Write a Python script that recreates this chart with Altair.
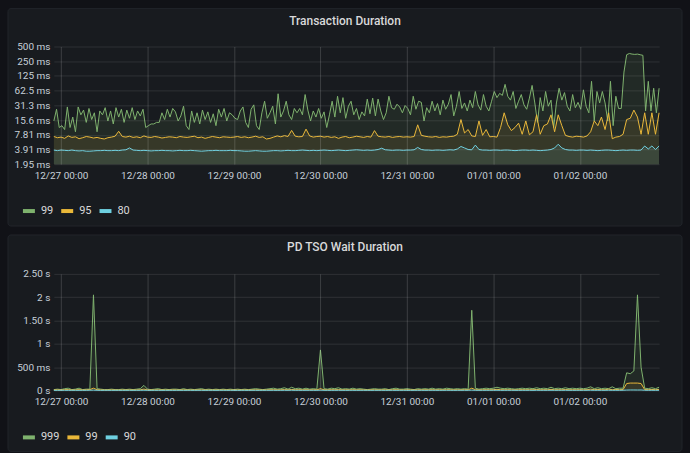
import altair as alt
import pandas as pd

# ---------------------------------------------------------------- data ----
START = alt.DateTime(year=2020, month=12, date=26, hours=22)
END = alt.DateTime(year=2021, month=1, date=2, hours=22)
T0 = "2020-12-26 22:00"

# Transaction Duration, milliseconds
# 99th percentile, 45-minute resolution
txn_p99 = [
    15, 26, 11, 12, 10, 29, 11, 18, 9, 29, 20, 25, 14, 27, 16, 22, 9, 24, 20, 28,
    15, 24, 13, 28, 18, 26, 14, 25, 17, 28, 16, 24, 19, 26, 11,
    12, 13, 13, 14, 14,
    22, 16, 26, 18, 27,
    23, 15, 19, 30, 12, 10, 24, 14, 22, 13, 25, 16, 23, 14, 21, 12, 26, 18, 27, 15,
    22, 20, 17, 16, 24, 29, 14, 11, 26, 32, 12, 10, 22, 38, 17, 22, 30, 13, 54, 18,
    24, 38, 20, 16, 27,
    22, 27, 20, 52, 25, 15, 24, 18, 27, 17, 23, 11, 20, 38, 18, 48, 22, 45, 17, 30,
    38, 20, 27, 16, 23, 19, 42, 21, 44, 19, 42, 24, 16, 22, 48, 28, 26, 33, 29, 22,
    31, 27, 20, 48, 26,
    38, 36, 15, 28, 22, 38, 24, 34, 20, 40, 26, 33, 52, 19, 30, 60, 27, 35, 24, 40,
    28, 60, 32, 25, 52, 30, 24, 38, 60, 45, 55, 50, 84, 48, 40, 60, 27, 38, 52, 32,
    26, 44, 80, 35, 14,
    45, 24, 60, 30, 40, 11, 35, 70, 40, 57, 30, 24, 52, 28, 36, 26, 65, 30, 22, 97,
    15, 60, 35, 60, 35, 15, 97, 12, 48, 27,
    27, 150, 340, 360, 350, 345, 350, 340, 330, 24, 97, 24, 70, 22, 70,
]
# 95th percentile, hourly
txn_p95 = [
    7.2, 6.8, 7.0, 6.6, 7.4, 6.9, 7.1, 6.5, 6.8, 7.2, 7.0, 6.7, 6.9, 6.6, 6.4, 6.8, 7.0, 7.3,
    9.2,
    7.2, 7.0, 7.3, 6.9, 7.1, 6.8, 7.4, 7.0, 6.9, 7.2, 7.0, 6.7, 6.9, 7.1, 7.0, 6.8,
    7.2, 7.0, 6.9, 7.1, 7.3, 6.8, 7.0, 6.6, 6.9, 7.2, 7.0, 6.8, 7.1, 7.0, 6.9,
    7.0, 7.2, 6.9, 7.1, 6.8, 7.0, 7.3, 6.9, 7.1, 6.4, 6.6, 7.0, 7.4, 7.1, 7.5, 7.2,
    9.6, 7.3, 7.1, 7.2, 10.2, 7.4, 7.0, 7.2,
    7.3, 7.0, 7.2, 6.9, 7.1, 6.6, 7.0, 7.2, 6.8, 7.0, 7.3, 7.1, 6.9, 7.2, 7.0, 9.5,
    7.3, 7.1, 7.0, 7.2, 6.9, 7.1, 7.2, 7.0,
    7.1, 7.0, 7.2, 12.5, 7.6, 7.3, 7.1, 7.0, 7.2, 6.9, 7.1, 7.0, 7.2, 7.3, 8.0, 16.0,
    8.5, 10.0, 7.4, 7.2, 15.0, 7.6, 10.0, 7.1,
    7.2, 7.0, 11.0, 22.0, 12.5, 9.5, 11.0, 13.5, 8.0, 15.0, 7.8, 9.0, 20.0, 8.0, 12.0, 13.0,
    20.0, 9.0, 20.0, 12.0, 7.6, 7.2, 7.0, 7.3,
    7.2, 7.0, 7.4, 9.0, 15.0, 12.0, 18.0, 10.0, 22.0, 6.5, 7.0, 7.2, 8.0, 16.0, 17.0, 25.0,
    18.0, 8.0, 22.0, 8.0, 22.0, 8.0, 22.0,
]
# 80th percentile, hourly
txn_p80 = [
    3.8, 3.7, 3.8, 3.75, 3.7, 3.8, 3.7, 3.65, 3.7, 3.6, 3.6, 3.65, 3.7, 3.7, 3.75, 3.7,
    3.7, 3.75, 3.7, 3.8, 3.85, 4.2, 3.8, 3.75,
    3.7, 3.75, 3.7, 3.65, 3.7, 3.7, 3.75, 3.7, 3.7, 3.65, 3.7, 3.75, 3.7, 3.7, 3.75, 3.7,
    3.65, 3.6, 3.65, 3.7, 3.7, 3.75, 3.7, 3.7,
    3.7, 3.75, 3.7, 3.7, 3.65, 3.6, 3.6, 3.65, 3.7, 3.65, 3.6, 3.6, 3.65, 3.7, 3.7, 3.65,
    3.7, 3.75, 3.7, 3.7, 3.75, 3.8, 3.75, 3.7,
    3.75, 3.7, 3.75, 3.8, 3.75, 3.7, 3.75, 3.8, 3.75, 3.7, 3.75, 3.8, 3.85, 3.8, 3.75, 3.8,
    3.75, 3.8, 3.9, 4.15, 3.85, 3.8, 3.75, 3.8,
    3.8, 3.75, 3.8, 3.8, 3.85, 4.3, 3.9, 3.8, 3.8, 3.75, 3.8, 3.8, 3.75, 3.8, 3.85, 3.8,
    4.0, 4.5, 4.2, 3.9, 3.85, 4.8, 3.9, 3.8,
    3.8, 3.75, 3.8, 3.8, 3.75, 3.8, 3.8, 3.75, 3.7, 3.75, 3.8, 3.8, 3.75, 3.8, 3.75, 3.7,
    3.75, 3.8, 3.9, 4.2, 5.0, 4.2, 3.9, 3.8,
    3.8, 3.75, 3.8, 3.8, 3.75, 3.8, 3.75, 3.7, 3.75, 3.8, 3.8, 3.75, 3.7, 3.75, 3.8, 3.75,
    3.8, 3.8, 3.75, 3.8, 4.6, 4.0, 4.6, 3.9, 4.6,
]

# PD TSO Wait Duration, seconds, hourly
tso_p999 = [
    0.02, 0.03, 0.02, 0.04, 0.05, 0.02, 0.03, 0.05, 0.02, 0.03, 0.03,
    2.05,
    0.04, 0.03, 0.02, 0.02, 0.03, 0.02, 0.02, 0.03, 0.02, 0.03, 0.02, 0.03, 0.04,
    0.11,
    0.03, 0.02, 0.03, 0.04, 0.02, 0.03, 0.02, 0.03, 0.03, 0.02, 0.04, 0.02, 0.03, 0.02,
    0.03, 0.04, 0.02, 0.03, 0.02, 0.03, 0.02, 0.03, 0.02, 0.03,
    0.02, 0.03, 0.02, 0.03, 0.02, 0.03, 0.04, 0.03, 0.02, 0.03, 0.04, 0.05, 0.03, 0.04,
    0.06, 0.03, 0.07, 0.04, 0.05, 0.03, 0.05, 0.03, 0.04, 0.03,
    0.87,
    0.04, 0.03, 0.05, 0.04, 0.06, 0.03, 0.04, 0.03, 0.05, 0.03, 0.04, 0.03, 0.02, 0.03,
    0.04, 0.03, 0.03, 0.04, 0.02, 0.04, 0.05, 0.03, 0.03, 0.04, 0.03, 0.02, 0.04, 0.03,
    0.04, 0.03, 0.05, 0.03, 0.04, 0.03, 0.05, 0.04, 0.03, 0.04, 0.03, 0.04, 0.03,
    1.72,
    0.05, 0.03, 0.04, 0.05, 0.04, 0.05, 0.07, 0.05, 0.04, 0.05, 0.04, 0.03, 0.04, 0.05,
    0.04, 0.05, 0.04, 0.06, 0.04, 0.05, 0.04, 0.07, 0.04, 0.05, 0.04, 0.06, 0.04, 0.05,
    0.04, 0.05, 0.04, 0.05, 0.08, 0.04, 0.06, 0.04, 0.05, 0.04, 0.08, 0.04, 0.05,
    0.05, 0.38, 0.36, 0.42, 2.05, 0.5, 0.05, 0.04, 0.06, 0.04, 0.07,
]
tso_p99 = [
    0.012, 0.015, 0.011, 0.018, 0.02, 0.012, 0.014, 0.019, 0.013, 0.015,
    0.02, 0.05, 0.018, 0.013, 0.011, 0.012, 0.014, 0.012, 0.011, 0.013,
    0.012, 0.014, 0.012, 0.013, 0.016, 0.03, 0.014, 0.012, 0.013, 0.015,
    0.012, 0.013, 0.012, 0.014, 0.013, 0.012, 0.015, 0.012, 0.013, 0.012,
    0.014, 0.015, 0.012, 0.013, 0.012, 0.013, 0.012, 0.014, 0.012, 0.013,
    0.012, 0.013, 0.012, 0.014, 0.012, 0.013, 0.015, 0.013, 0.012, 0.014,
    0.016, 0.018, 0.014, 0.016, 0.02, 0.014, 0.022, 0.016, 0.018, 0.014,
    0.018, 0.014, 0.016, 0.015, 0.04, 0.016, 0.014, 0.018, 0.016, 0.02,
    0.014, 0.016, 0.014, 0.018, 0.014, 0.016, 0.014, 0.012, 0.014, 0.016,
    0.014, 0.014, 0.016, 0.013, 0.016, 0.018, 0.014, 0.014, 0.016, 0.014,
    0.013, 0.016, 0.014, 0.016, 0.014, 0.018, 0.014, 0.016, 0.014, 0.018,
    0.016, 0.014, 0.016, 0.014, 0.018, 0.016, 0.05, 0.018, 0.014, 0.016,
    0.018, 0.016, 0.018, 0.025, 0.018, 0.016, 0.018, 0.016, 0.014, 0.016,
    0.018, 0.016, 0.018, 0.016, 0.022, 0.016, 0.018, 0.016, 0.025, 0.016,
    0.018, 0.016, 0.022, 0.016, 0.018, 0.016, 0.018, 0.016, 0.018, 0.03,
    0.018, 0.022, 0.018, 0.016, 0.03, 0.018, 0.022, 0.018,
    0.02, 0.15, 0.16, 0.16, 0.16, 0.15, 0.02, 0.018, 0.022, 0.018, 0.025,
]
tso_p90 = [
    0.005, 0.004, 0.005, 0.005, 0.004, 0.005, 0.005, 0.004, 0.005, 0.005,
    0.006, 0.008, 0.005, 0.004, 0.005, 0.005, 0.004, 0.005, 0.005, 0.004,
    0.005, 0.005, 0.004, 0.005, 0.005, 0.006, 0.005, 0.004, 0.005, 0.005,
    0.004, 0.005, 0.005, 0.004, 0.005, 0.005, 0.004, 0.005, 0.005, 0.004,
    0.005, 0.005, 0.004, 0.005, 0.005, 0.004, 0.005, 0.005, 0.004, 0.005,
    0.005, 0.004, 0.005, 0.005, 0.004, 0.005, 0.005, 0.004, 0.005, 0.005,
    0.005, 0.005, 0.004, 0.005, 0.005, 0.005, 0.006, 0.005, 0.005, 0.004,
    0.005, 0.005, 0.005, 0.004, 0.007, 0.005, 0.005, 0.004, 0.005, 0.005,
    0.005, 0.004, 0.005, 0.005, 0.004, 0.005, 0.005, 0.005, 0.004, 0.005,
    0.005, 0.005, 0.004, 0.005, 0.005, 0.004, 0.005, 0.005, 0.005, 0.004,
    0.005, 0.005, 0.005, 0.004, 0.005, 0.005, 0.005, 0.004, 0.005, 0.005,
    0.005, 0.004, 0.005, 0.005, 0.005, 0.005, 0.008, 0.005, 0.005, 0.005,
    0.005, 0.005, 0.005, 0.005, 0.004, 0.005, 0.005, 0.005, 0.005, 0.004,
    0.005, 0.005, 0.005, 0.004, 0.005, 0.005, 0.005, 0.005, 0.005, 0.005,
    0.005, 0.005, 0.005, 0.005, 0.004, 0.005, 0.005, 0.005, 0.005, 0.006,
    0.005, 0.005, 0.005, 0.005, 0.006, 0.005, 0.005, 0.005, 0.006, 0.010,
    0.012, 0.012, 0.011, 0.012, 0.006, 0.005, 0.005, 0.005, 0.005,
]

txn_series = ["99", "95", "80"]
tso_series = ["999", "99", "90"]
palette = ["#7EB26D", "#EAB839", "#6ED0E0"]

txn_ticks = [1.953125, 3.90625, 7.8125, 15.625, 31.25, 62.5, 125, 250, 500]
txn_tick_labels = ["1.95 ms", "3.91 ms", "7.81 ms", "15.6 ms", "31.3 ms",
                   "62.5 ms", "125 ms", "250 ms", "500 ms"]
tso_ticks = [0, 0.5, 1, 1.5, 2, 2.5]
tso_tick_labels = ["0 s", "500 ms", "1 s", "1.50 s", "2 s", "2.50 s"]

day_ticks = [alt.DateTime(year=2020, month=12, date=d) for d in range(27, 32)] + \
            [alt.DateTime(year=2021, month=1, date=d) for d in (1, 2)]

# ---------------------------------------------------------------- style ---
FONT = "Roboto"
PANEL_BG = "#181b1f"
PANEL_EDGE = "#22252b"
TEXT = "#c7d0d9"
W = 607
SWATCH = 12          # legend swatch length
DIGIT_W = 6.2        # approx. advance of one digit at 11px


def series_frame(values, name, freq):
    t = pd.date_range(T0, periods=len(values), freq=freq)
    return pd.DataFrame({"time": t, "value": values, "series": name})


def label_expr(ticks, labels):
    parts = " : ".join(f"datum.value == {t} ? '{l}'" for t, l in zip(ticks, labels))
    return parts + " : ''"


def legend_layers(names, y):
    """Horizontal Grafana-style legend: short thick swatch + series name."""
    layers = []
    x0 = -31
    for name, colour in zip(names, palette):
        layers.append(
            alt.Chart(alt.Data(values=[{}])).mark_rule(
                strokeWidth=4, color=colour, clip=False
            ).encode(x=alt.value(x0), x2=alt.value(x0 + SWATCH), y=alt.value(y)))
        layers.append(
            alt.Chart(alt.Data(values=[{}])).mark_text(
                text=name, font=FONT, fontSize=11, color="#d8d9da",
                align="left", baseline="middle", clip=False
            ).encode(x=alt.value(x0 + SWATCH + 6), y=alt.value(y)))
        x0 += SWATCH + 6 + len(name) * DIGIT_W + 8
    return layers


def panel(df, names, title, y_scale, ticks, labels, height, top, bottom, legend_y):
    # panel card behind the view
    frame = alt.Chart(alt.Data(values=[{}])).mark_rect(
        fill=PANEL_BG, stroke=PANEL_EDGE, strokeWidth=1, cornerRadius=3, clip=False
    ).encode(x=alt.value(-46), x2=alt.value(W + 23), y=alt.value(top), y2=alt.value(bottom))

    heading = alt.Chart(alt.Data(values=[{}])).mark_text(
        text=title, font=FONT, fontSize=12, fontWeight=500, color="#d8d9da",
        align="center", baseline="middle", clip=False
    ).encode(x=alt.value(292), y=alt.value(top + 12))

    x = alt.X("time:T", title=None,
              scale=alt.Scale(domain=[START, END]),
              axis=alt.Axis(values=day_ticks, format="%m/%d %H:%M", grid=True,
                            gridColor="#ffffff", gridOpacity=0.16, domain=False,
                            ticks=False, labelPadding=6, labelFontSize=10,
                            labelColor=TEXT, labelFont=FONT, labelFlush=False,
                            zindex=1))
    y = alt.Y("value:Q", title=None, stack=None, scale=y_scale,
              axis=alt.Axis(values=ticks, labelExpr=label_expr(ticks, labels),
                            grid=True, gridColor="#ffffff", gridOpacity=0.1,
                            domain=False, ticks=False, labelPadding=4,
                            labelFontSize=10, labelColor=TEXT, labelFont=FONT,
                            labelFlush=False, zindex=1))
    colour = alt.Scale(domain=names, range=palette)

    area = alt.Chart(df).mark_area(fillOpacity=0.1, interpolate="linear").encode(
        x=x, y=y, fill=alt.Fill("series:N", scale=colour, legend=None))
    line = alt.Chart(df).mark_line(strokeWidth=1, interpolate="linear").encode(
        x=x, y=y, stroke=alt.Stroke("series:N", scale=colour, legend=None))
    return alt.layer(frame, area, line, heading, *legend_layers(names, legend_y)
                     ).properties(width=W, height=height)


txn = pd.concat([
    series_frame(txn_p99, txn_series[0], "45min"),
    series_frame(txn_p95, txn_series[1], "60min"),
    series_frame(txn_p80, txn_series[2], "60min"),
])
tso = pd.concat([
    series_frame(tso_p999, tso_series[0], "60min"),
    series_frame(tso_p99, tso_series[1], "60min"),
    series_frame(tso_p90, tso_series[2], "60min"),
])

top_panel = panel(txn, txn_series, "Transaction Duration",
                  alt.Scale(type="log", base=2, domain=[txn_ticks[0], txn_ticks[-1]]),
                  txn_ticks, txn_tick_labels, 118, -38, 180, 165)
bottom_panel = panel(tso, tso_series, "PD TSO Wait Duration",
                     alt.Scale(domain=[0, 2.5], nice=False),
                     tso_ticks, tso_tick_labels, 117, -39, 178, 164)

chart = alt.vconcat(top_panel, bottom_panel, spacing=7).resolve_scale(
    x="independent", y="independent", fill="independent", stroke="independent"
).properties(
    background="#111217",
    padding={"left": 7, "top": 7, "right": 7, "bottom": 4},
).configure_view(strokeWidth=0)

chart.save("out.html", embed_options={"renderer": "svg", "actions": False})
